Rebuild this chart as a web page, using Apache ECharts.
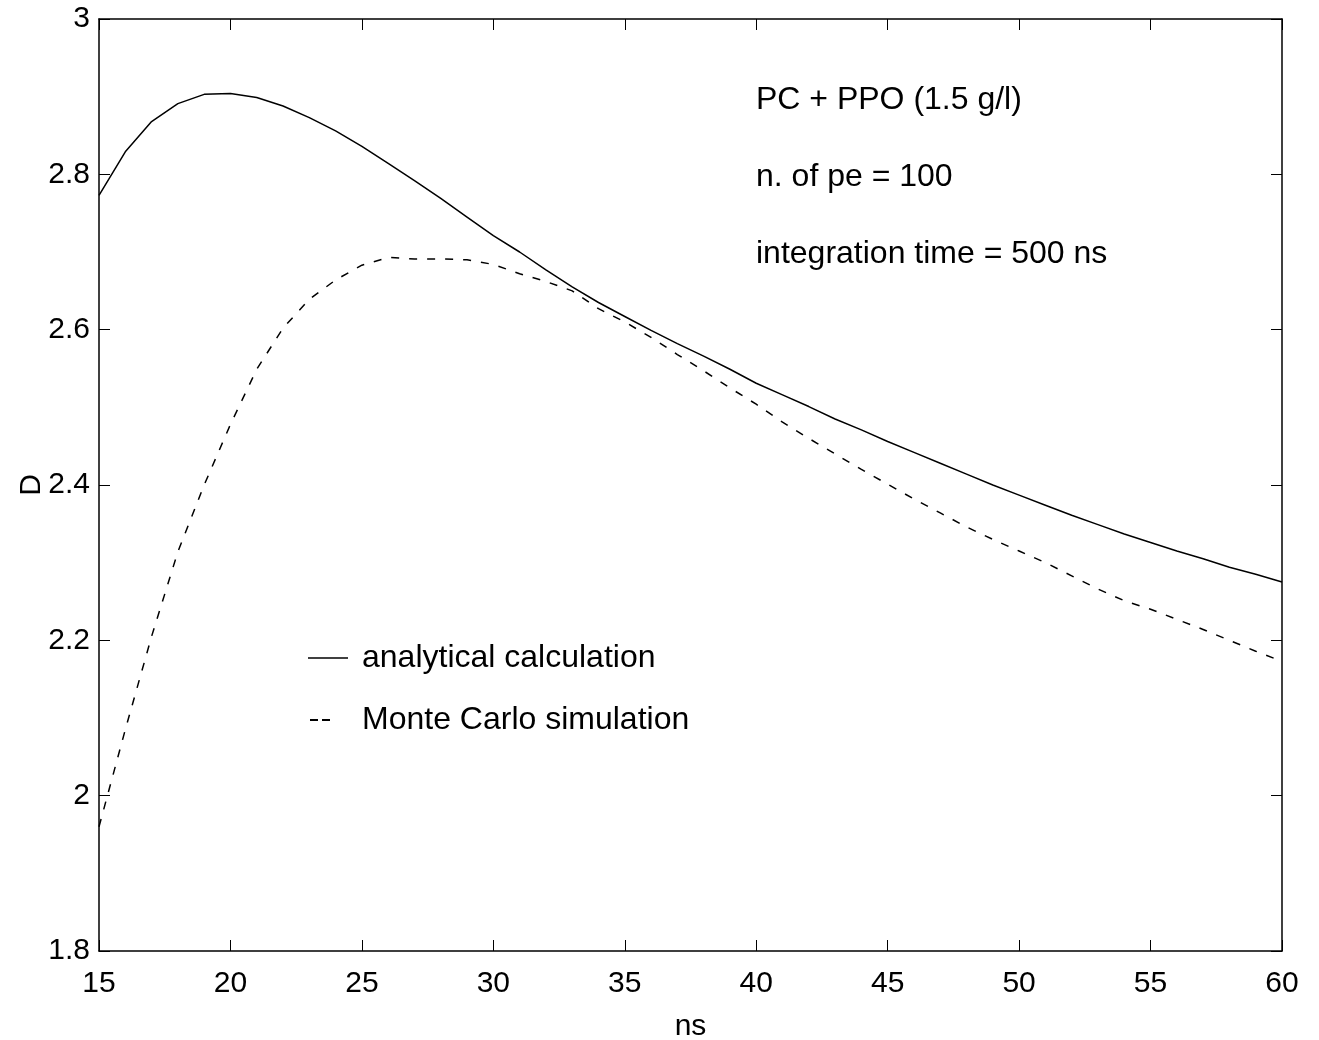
<!DOCTYPE html>
<html>
<head>
<meta charset="utf-8">
<script src="https://cdn.jsdelivr.net/npm/echarts@6/dist/echarts.min.js"></script>
<style>
html,body{margin:0;padding:0;background:#fff;}
#chart{width:1319px;height:1040px;}
</style>
</head>
<body>
<div id="chart"></div>
<script>
// time (ns)
const nsValues = [15,16,17,18,19,20,21,22,23,24,25,26,27,28,29,30,31,32,33,34,35,36,37,38,39,40,41,42,43,44,45,46,47,48,49,50,51,52,53,54,55,56,57,58,59,60];
// analytical calculation
const analytical = [2.773,2.829,2.868,2.891,2.903,2.904,2.899,2.888,2.873,2.856,2.836,2.814,2.792,2.769,2.745,2.721,2.700,2.677,2.655,2.635,2.617,2.599,2.582,2.566,2.549,2.531,2.516,2.501,2.485,2.471,2.456,2.442,2.428,2.414,2.400,2.387,2.374,2.361,2.349,2.337,2.326,2.315,2.305,2.294,2.285,2.275];
// Monte Carlo simulation
const monteCarlo = [1.960,2.085,2.205,2.314,2.400,2.478,2.549,2.602,2.639,2.664,2.683,2.693,2.691,2.691,2.690,2.684,2.672,2.662,2.650,2.627,2.610,2.590,2.568,2.547,2.525,2.504,2.481,2.460,2.440,2.420,2.401,2.382,2.364,2.346,2.330,2.315,2.300,2.283,2.266,2.251,2.240,2.227,2.214,2.200,2.186,2.173];
const xTicks = [15,20,25,30,35,40,45,50,55,60];
const yTicks = [1.8,2,2.2,2.4,2.6,2.8,3];
const seriesNames = ['analytical calculation','Monte Carlo simulation'];
const notes = ['PC + PPO (1.5 g/l)','n. of pe = 100','integration time = 500 ns'];

const FONT = 'Liberation Sans, Arial, Helvetica, sans-serif';
const FS = 30;   // tick labels, axis names
const FT = 32;   // annotations, legend

const chart = echarts.init(document.getElementById('chart'), null, {renderer:'canvas'});

const axLine = {show:true, lineStyle:{color:'#000', width:1.5}};
const tick = {show:true, inside:true, length:11, lineStyle:{color:'#000', width:1}};

chart.setOption({
  animation:false,
  backgroundColor:'#fff',
  grid:{left:99, right:37, top:19, bottom:89, containLabel:false, outerBoundsMode:'none'},
  xAxis:[
    {type:'value', min:xTicks[0], max:xTicks[xTicks.length-1], interval:5, position:'bottom',
     axisLine:axLine, axisTick:tick, splitLine:{show:false},
     axisLabel:{color:'#000', fontSize:FS, fontFamily:FONT, margin:18},
     name:'ns', nameLocation:'middle', nameGap:61, nameMoveOverlap:false,
     nameTextStyle:{color:'#000', fontSize:FS, fontFamily:FONT}},
    {type:'value', min:xTicks[0], max:xTicks[xTicks.length-1], interval:5, position:'top',
     axisLine:axLine, axisTick:tick, splitLine:{show:false}, axisLabel:{show:false}}
  ],
  yAxis:[
    {type:'value', min:yTicks[0], max:yTicks[yTicks.length-1], interval:0.2, position:'left',
     axisLine:axLine, axisTick:tick, splitLine:{show:false},
     axisLabel:{color:'#000', fontSize:FS, fontFamily:FONT, margin:9,
       formatter:function(v){return String(Math.round(v*10)/10);}},
     name:'D', nameLocation:'middle', nameGap:52, nameRotate:90, nameMoveOverlap:false,
     nameTextStyle:{color:'#000', fontSize:FS, fontFamily:FONT}},
    {type:'value', min:yTicks[0], max:yTicks[yTicks.length-1], interval:0.2, position:'right',
     axisLine:axLine, axisTick:tick, splitLine:{show:false}, axisLabel:{show:false}}
  ],
  legend:[
    {data:[{name:seriesNames[0], icon:'rect'}], orient:'vertical', left:308, top:642, padding:0,
     itemWidth:40, itemHeight:1.5,
     textStyle:{color:'#000', fontSize:FT, fontFamily:FONT, padding:[0,0,0,9]}},
    {data:[{name:seriesNames[1], icon:'path://M0,0h8v2h-8z M12,0h8v2h-8z'}], orient:'vertical', left:310, top:704, padding:0,
     itemWidth:20, itemHeight:2,
     textStyle:{color:'#000', fontSize:FT, fontFamily:FONT, padding:[0,0,0,27]}}
  ],
  graphic:[
    {type:'text', left:756, top:84, style:{text:notes[0], fill:'#000', font:FT+'px '+FONT}},
    {type:'text', left:756, top:161, style:{text:notes[1], fill:'#000', font:FT+'px '+FONT}},
    {type:'text', left:756, top:238, style:{text:notes[2], fill:'#000', font:FT+'px '+FONT}}
  ],
  series:[
    {name:seriesNames[0], type:'line', xAxisIndex:0, yAxisIndex:0, symbol:'none', smooth:false,
     color:'#000', lineStyle:{color:'#000', width:1.5, type:'solid'},
     data:nsValues.map((x,i)=>[x, analytical[i]])},
    {name:seriesNames[1], type:'line', xAxisIndex:0, yAxisIndex:0, symbol:'none', smooth:false,
     color:'#000', lineStyle:{color:'#000', width:1.5, type:[8,10]},
     data:nsValues.map((x,i)=>[x, monteCarlo[i]])}
  ]
});
</script>
</body>
</html>
